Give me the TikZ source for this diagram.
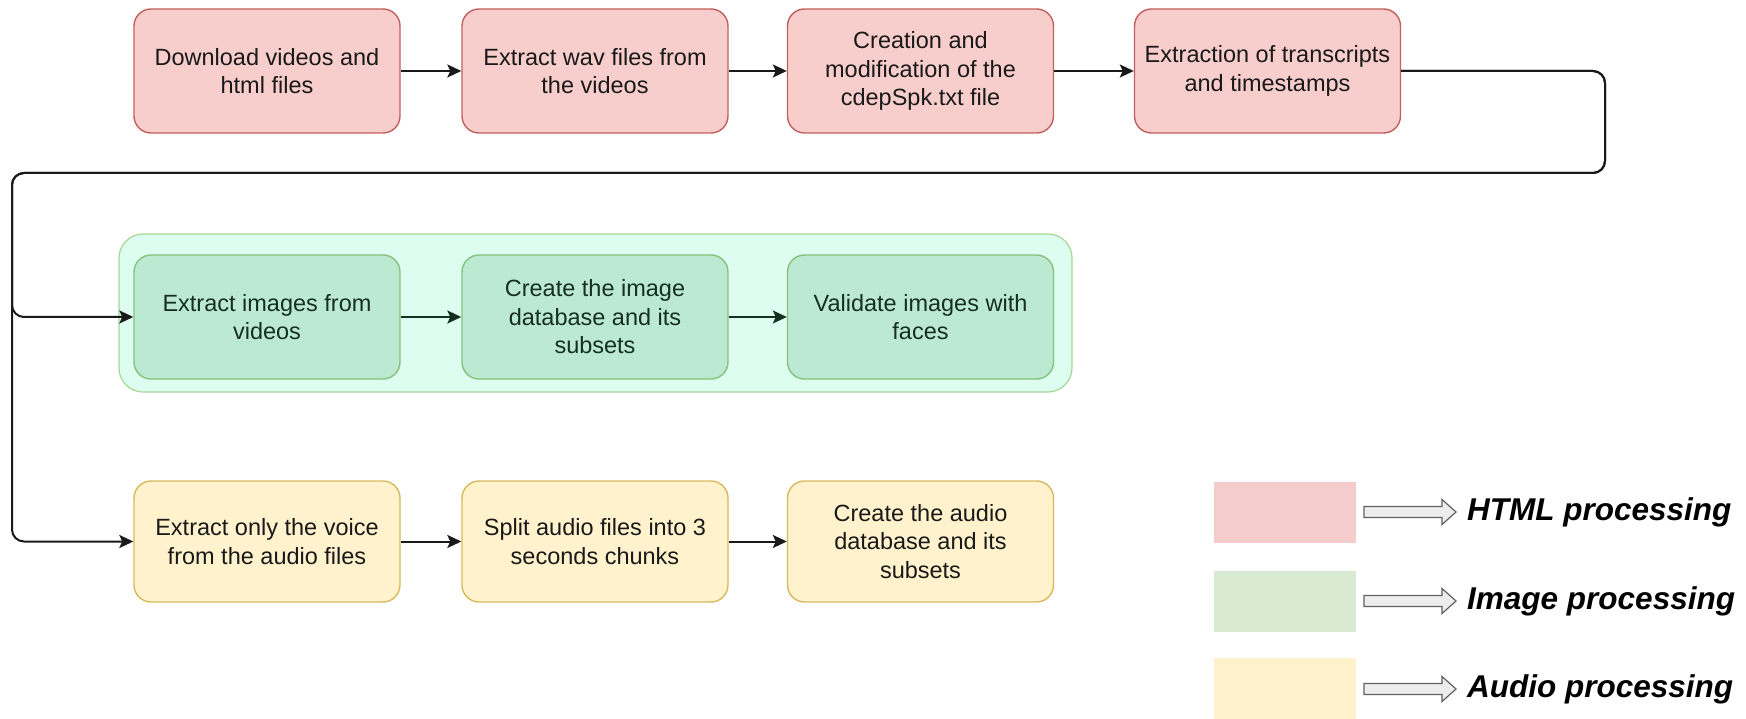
\documentclass[tikz,border=0pt]{standalone}
\usepackage{fontspec}
\setmainfont{Liberation Sans}
\usetikzlibrary{arrows.meta}

\definecolor{htmlfill}{HTML}{F8CECC}
\definecolor{htmldraw}{HTML}{C0605C}
\definecolor{imgfill}{HTML}{BBE9D1}
\definecolor{imgdraw}{HTML}{86C27A}
\definecolor{imgtext}{HTML}{16301F}
\definecolor{grpfill}{HTML}{DEFDF1}
\definecolor{grpdraw}{HTML}{A6D892}
\definecolor{audfill}{HTML}{FFF2CC}
\definecolor{auddraw}{HTML}{D8B95E}
\definecolor{leghtml}{HTML}{F4CCCC}
\definecolor{legimg}{HTML}{D9EAD3}
\definecolor{legaud}{HTML}{FFF2CC}

\tikzset{
  stepbox/.style={rectangle, rounded corners=17pt, minimum width=266pt,
    minimum height=124pt, line width=1.4pt, align=center, inner sep=2pt,
    font=\fontsize{23.5}{28.5}\selectfont},
  htmlbox/.style={stepbox, fill=htmlfill, draw=htmldraw, text=black!90},
  imgbox/.style={stepbox, fill=imgfill, draw=imgdraw, text=imgtext},
  audbox/.style={stepbox, fill=audfill, draw=auddraw, text=black!90, minimum height=121pt},
  conn/.style={line width=2pt, draw=black!90,
    -{Stealth[length=14pt,width=13pt,inset=3pt]}},
  imgconn/.style={conn, draw=imgtext, -{Stealth[length=14pt,width=13pt,inset=3pt,fill=imgtext]}},
  legswatch/.style={rectangle, minimum width=142pt, minimum height=61pt, inner sep=0pt},
  legarrow/.style={draw=black!62, fill=black!7, line width=1.2pt, line join=miter},
  leglabel/.style={anchor=west, inner sep=0pt,
    font=\fontsize{31.5}{36}\selectfont\bfseries\itshape}
}

\begin{document}
\begin{tikzpicture}[x=1pt,y=-1pt]
\useasboundingbox (0,0) rectangle (1746,719);

% group frame behind the image-processing steps
\draw[fill=grpfill, draw=grpdraw, line width=1.2pt, rounded corners=24pt]
  (119,234) rectangle (1072,392);

% HTML processing row
\node[htmlbox] (h1) at (267,71)    {Download videos and\\html files};
\node[htmlbox] (h2) at (595,71)    {Extract wav files from\\the videos};
\node[htmlbox] (h3) at (920.5,71)  {Creation and\\modification of the\\cdepSpk.txt file};
\node[htmlbox] (h4) at (1267.5,71) {Extraction of transcripts\\and timestamps};

% image processing row
\node[imgbox] (g1) at (267,317)    {Extract images from\\videos};
\node[imgbox] (g2) at (595,317)    {Create the image\\database and its\\subsets};
\node[imgbox] (g3) at (920.5,317)  {Validate images with\\faces};

% audio processing row
\node[audbox] (a1) at (267,541.5)   {Extract only the voice\\from the audio files};
\node[audbox] (a2) at (595,541.5)   {Split audio files into 3\\seconds chunks};
\node[audbox] (a3) at (920.5,541.5) {Create the audio\\database and its\\subsets};

% connectors inside each row
\draw[conn] (h1) -- (h2);
\draw[conn] (h2) -- (h3);
\draw[conn] (h3) -- (h4);
\draw[imgconn] (g1) -- (g2);
\draw[imgconn] (g2) -- (g3);
\draw[conn] (a1) -- (a2);
\draw[conn] (a2) -- (a3);

% return loop feeding the two lower rows
\coordinate (loopR) at (1605,173);
\coordinate (loopL) at (12,173);
\draw[conn, rounded corners=12pt] (h4.east) -| (loopR) -- (loopL) |- (g1.west);
\draw[conn, rounded corners=12pt] (h4.east) -| (loopR) -- (loopL) |- (a1.west);

% legend swatches, block arrows and labels
\node[legswatch, fill=leghtml] (lh) at (1285,512.5) {};
\node[legswatch, fill=legimg]  (li) at (1285,601)   {};
\node[legswatch, fill=legaud]  (la) at (1285,688.5) {};
\foreach \yy in {512,601,689}{
  \draw[legarrow] (1364,\yy-5.5) -- (1442,\yy-5.5) -- (1442,\yy-12.5)
    -- (1456,\yy) -- (1442,\yy+12.5) -- (1442,\yy+5.5) -- (1364,\yy+5.5) -- cycle;
}
\node[leglabel] (th) at (1467,512) {HTML processing};
\node[leglabel] (ti) at (1467,601) {Image processing};
\node[leglabel] (ta) at (1467,689) {Audio processing};
\end{tikzpicture}
\end{document}
